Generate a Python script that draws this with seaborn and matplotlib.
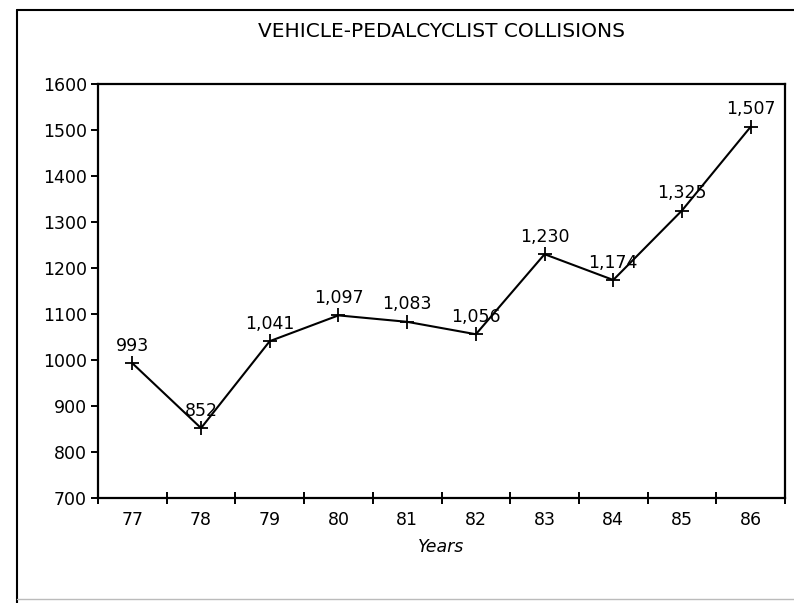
import matplotlib
matplotlib.use("Agg")
import matplotlib.pyplot as plt
import seaborn as sns
import pandas as pd
from matplotlib.lines import Line2D

# --- dados ---
years = ["77", "78", "79", "80", "81", "82", "83", "84", "85", "86"]
collisions = [993, 852, 1041, 1097, 1083, 1056, 1230, 1174, 1325, 1507]
y_ticks = [700, 800, 900, 1000, 1100, 1200, 1300, 1400, 1500, 1600]

df = pd.DataFrame({"year": years, "collisions": collisions})
df["pos"] = range(len(years))

sns.set_style("white")
plt.rcParams["font.family"] = ["DejaVu Sans"]
plt.rcParams["text.color"] = "black"
plt.rcParams["xtick.color"] = "black"
plt.rcParams["ytick.color"] = "black"
plt.rcParams["axes.labelcolor"] = "black"

fig = plt.figure(figsize=(7.94, 6.03), dpi=100)
ax = fig.add_axes([0.1234, 0.1741, 0.8653, 0.6866])

sns.lineplot(data=df, x="pos", y="collisions", ax=ax, color="black",
             linewidth=1.5, marker="+", markersize=10, markeredgewidth=1.3,
             markeredgecolor="black")

for p, v in zip(df["pos"], df["collisions"]):
    ax.annotate(f"{v:,}", (p, v), xytext=(0, 6), textcoords="offset points",
                ha="center", va="bottom", fontsize=12.5)

ax.set_xlim(-0.5, len(years) - 0.5)
ax.set_ylim(700, 1600)
ax.set_yticks(y_ticks)
ax.set_xticks(df["pos"])
ax.set_xticklabels(years)
ax.set_xticks([i + 0.5 for i in range(-1, len(years))], minor=True)
ax.tick_params(bottom=True, left=True, which="both")
ax.tick_params(axis="x", which="major", length=0, labelsize=12.5, pad=9)
ax.tick_params(axis="x", which="minor", length=8, width=1.4, direction="inout")
ax.tick_params(axis="y", length=5, width=1.4, direction="out", labelsize=12.5, pad=3)

for s in ax.spines.values():
    s.set_color("black")
    s.set_linewidth(1.6)

ax.set_xlabel("Years", fontstyle="italic", fontsize=12.5, labelpad=7)
ax.set_ylabel("")
ax.set_title("VEHICLE-PEDALCYCLIST COLLISIONS", fontsize=14.5, pad=34)

# moldura da página digitalizada
fig.add_artist(Line2D([17 / 794, 17 / 794], [0, 1 - 10 / 603], color="black", lw=1.5))
fig.add_artist(Line2D([17 / 794, 1], [1 - 10 / 603, 1 - 10 / 603], color="black", lw=1.5))
fig.add_artist(Line2D([17 / 794, 1], [4 / 603, 4 / 603], color="#bbbbbb", lw=1))

plt.savefig("out.png", dpi=100)
